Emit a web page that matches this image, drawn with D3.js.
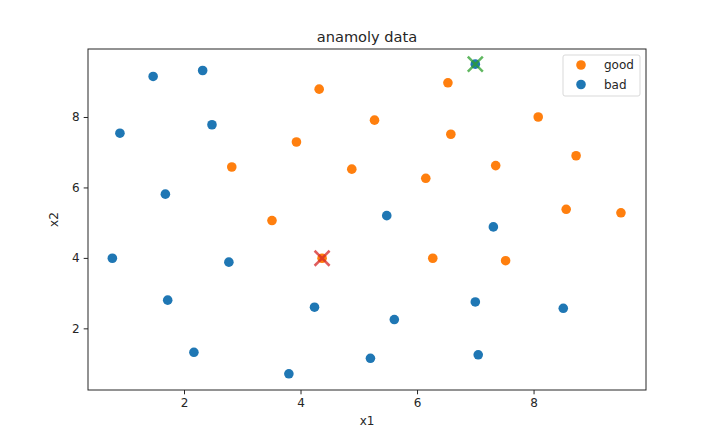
<!DOCTYPE html>
<html>
<head>
<meta charset="utf-8">
<script src="https://cdn.jsdelivr.net/npm/d3@7"></script>
<style>
  body { margin: 0; background: #fff; }
  text { font-family: "DejaVu Sans", sans-serif; fill: #262626; }
</style>
</head>
<body>
<script>
var w = 713;
var h = 437;
var margin = {top: 49, right: 67, bottom: 47, left: 88};

var goodX = [4.32, 3.93, 2.82, 4.88, 3.51, 6.53, 5.27, 6.58, 8.08, 8.73, 7.35, 6.15, 8.56, 9.50, 6.27, 7.52, 4.37];
var goodY = [8.79, 7.29, 6.58, 6.52, 5.06, 8.97, 7.91, 7.51, 8.00, 6.90, 6.62, 6.26, 5.38, 5.28, 3.99, 3.92, 3.99];

var badX = [0.90, 1.47, 2.32, 2.48, 1.68, 0.77, 2.77, 1.72, 2.17, 3.80, 4.24, 5.48, 7.31, 7.00, 5.61, 5.20, 7.05, 8.51, 7.00];
var badY = [7.54, 9.15, 9.32, 7.78, 5.81, 3.99, 3.88, 2.80, 1.32, 0.71, 2.60, 5.20, 4.88, 2.75, 2.25, 1.15, 1.25, 2.57, 9.50];

// highlighted points (red = good centre, green = bad centre)
var crossX = [4.37, 7.00];
var crossY = [3.99, 9.50];
var crossColors = ["#d62728", "#2ca02c"];

var xTicks = [2, 4, 6, 8];
var yTicks = [2, 4, 6, 8];

var iw = w - margin.left - margin.right;
var ih = h - margin.top - margin.bottom;

var xScale = d3.scaleLinear().domain([0.352, 9.93]).range([0, iw]);
var yScale = d3.scaleLinear().domain([0.25, 9.93]).range([ih, 0]);

var svg = d3.select("body")
  .append("svg")
  .attr("width", w)
  .attr("height", h);

var g = svg.append("g")
  .attr("transform", "translate(" + margin.left + "," + margin.top + ")");

var xAxis = g.append("g")
  .attr("transform", "translate(0," + ih + ")")
  .call(d3.axisBottom(xScale).tickValues(xTicks).tickSize(4.3).tickPadding(4).tickFormat(d3.format("d")));
var yAxis = g.append("g")
  .call(d3.axisLeft(yScale).tickValues(yTicks).tickSize(4.3).tickPadding(4).tickFormat(d3.format("d")));

[xAxis, yAxis].forEach(function(a) {
  a.select(".domain").remove();
  a.selectAll("line").attr("stroke", "#262626").attr("stroke-width", 1);
  a.selectAll("text").style("font-size", "12px").style("font-family", "DejaVu Sans").attr("fill", "#262626");
});

g.selectAll("circle.good")
  .data(goodX)
  .enter()
  .append("circle")
  .attr("class", "good")
  .attr("cx", function(d) { return xScale(d); })
  .attr("cy", function(d, i) { return yScale(goodY[i]); })
  .attr("r", 4.8)
  .attr("fill", "#ff7f0e");

g.selectAll("circle.bad")
  .data(badX)
  .enter()
  .append("circle")
  .attr("class", "bad")
  .attr("cx", function(d) { return xScale(d); })
  .attr("cy", function(d, i) { return yScale(badY[i]); })
  .attr("r", 4.8)
  .attr("fill", "#1f77b4");

var s = 7.5;
crossX.forEach(function(d, i) {
  var cx = xScale(d), cy = yScale(crossY[i]);
  var c = g.append("g").attr("opacity", 0.75);
  c.append("line").attr("x1", cx - s).attr("y1", cy - s).attr("x2", cx + s).attr("y2", cy + s)
    .attr("stroke", crossColors[i]).attr("stroke-width", 2.5);
  c.append("line").attr("x1", cx - s).attr("y1", cy + s).attr("x2", cx + s).attr("y2", cy - s)
    .attr("stroke", crossColors[i]).attr("stroke-width", 2.5);
});

g.append("rect")
  .attr("width", iw)
  .attr("height", ih)
  .attr("fill", "none")
  .attr("stroke", "#262626")
  .attr("stroke-width", 1);

svg.append("text")
  .attr("x", margin.left + iw / 2)
  .attr("y", margin.top - 7)
  .attr("text-anchor", "middle")
  .style("font-size", "14.6px")
  .text("anamoly data");

svg.append("text")
  .attr("x", margin.left + iw / 2)
  .attr("y", h - 12)
  .attr("text-anchor", "middle")
  .style("font-size", "12px")
  .text("x1");

svg.append("text")
  .attr("transform", "translate(" + 58 + "," + (margin.top + ih / 2) + ") rotate(-90)")
  .attr("text-anchor", "middle")
  .style("font-size", "12px")
  .text("x2");

// legend
var legendNames = ["good", "bad"];
var legendColors = ["#ff7f0e", "#1f77b4"];
var lg = svg.append("g").attr("transform", "translate(563,55)");
lg.append("rect")
  .attr("width", 77).attr("height", 41).attr("rx", 2)
  .attr("fill", "#fff").attr("fill-opacity", 0.8)
  .attr("stroke", "#d9d9d9").attr("stroke-width", 1);
legendNames.forEach(function(n, i) {
  lg.append("circle").attr("cx", 18).attr("cy", 10 + i * 19.5).attr("r", 4.8).attr("fill", legendColors[i]);
  lg.append("text").attr("x", 41).attr("y", 14.3 + i * 19.5).style("font-size", "12px").text(n);
});
</script>
</body>
</html>
